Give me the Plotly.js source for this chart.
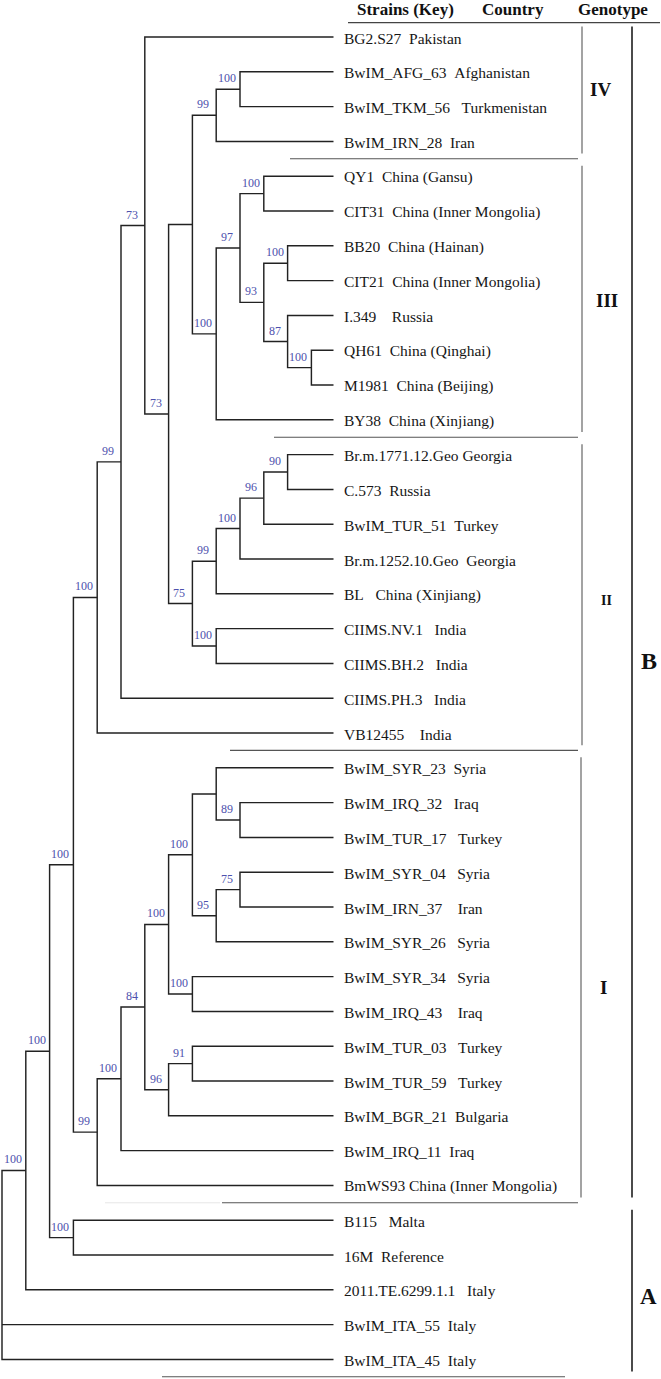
<!DOCTYPE html>
<html><head><meta charset="utf-8">
<script src="https://cdn.plot.ly/plotly-3.0.1.min.js"></script>
<style>html,body{margin:0;padding:0;background:#fff}#chart{width:661px;height:1379px}</style>
</head><body><div id="chart"></div>
<script>
// ---- data ----
const strains = ["BG2.S27","BwIM_AFG_63","BwIM_TKM_56","BwIM_IRN_28","QY1","CIT31","BB20","CIT21","I.349","QH61","M1981","BY38",
  "Br.m.1771.12.Geo","C.573","BwIM_TUR_51","Br.m.1252.10.Geo","BL","CIIMS.NV.1","CIIMS.BH.2","CIIMS.PH.3","VB12455",
  "BwIM_SYR_23","BwIM_IRQ_32","BwIM_TUR_17","BwIM_SYR_04","BwIM_IRN_37","BwIM_SYR_26","BwIM_SYR_34","BwIM_IRQ_43",
  "BwIM_TUR_03","BwIM_TUR_59","BwIM_BGR_21","BwIM_IRQ_11","BmWS93","B115","16M","2011.TE.6299.1.1","BwIM_ITA_55","BwIM_ITA_45"];
const countries = ["Pakistan","Afghanistan","Turkmenistan","Iran","China (Gansu)","China (Inner Mongolia)","China (Hainan)","China (Inner Mongolia)","Russia","China (Qinghai)","China (Beijing)","China (Xinjiang)",
  "Georgia","Russia","Turkey","Georgia","China (Xinjiang)","India","India","India","India",
  "Syria","Iraq","Turkey","Syria","Iran","Syria","Syria","Iraq",
  "Turkey","Turkey","Bulgaria","Iraq","China (Inner Mongolia)","Malta","Reference","Italy","Italy","Italy"];
const gaps = [2,2,3,2,2,2,2,2,4,2,2,2, 1,2,2,2,3,3,3,3,4, 2,3,3,3,4,3,3,4, 3,3,2,2,1,3,2,3,2,2];

// topology with bootstrap support (Newick pieces)
const cladeIV  = "((BwIM_AFG_63,BwIM_TKM_56)100,BwIM_IRN_28)99";
const cladeIII = "(((QY1,CIT31)100,((BB20,CIT21)100,(I.349,(QH61,M1981)100)87)93)97,BY38)100";
const cladeII  = "(((((Br.m.1771.12.Geo,C.573)90,BwIM_TUR_51)96,Br.m.1252.10.Geo)100,BL)99,(CIIMS.NV.1,CIIMS.BH.2)100)75";
const cladeI   = "((((((BwIM_SYR_23,(BwIM_IRQ_32,BwIM_TUR_17)89),((BwIM_SYR_04,BwIM_IRN_37)75,BwIM_SYR_26)95)100,(BwIM_SYR_34,BwIM_IRQ_43)100)100,((BwIM_TUR_03,BwIM_TUR_59)91,BwIM_BGR_21)96)84,BwIM_IRQ_11)100,BmWS93)99";
const cladeA   = "(B115,16M)100";

const groupNames = ["IV","III","II","I","B","A"];
const groupFirst = [0,4,12,21,0,34];
const groupLast  = [3,11,20,33,33,38];
const groupLabelY = [1.52,7.56,16.18,27.3,17.93,36.2];
const headerTexts = ["Strains (Key)","Country","Genotype"];

// ---- build tree ----
const n192a = "(" + cladeIV + "," + cladeIII + ")";
const n168 = "(" + n192a + "," + cladeII + ")73";
const n144 = "(BG2.S27," + n168 + ")73";
const n120 = "(" + n144 + ",CIIMS.PH.3)99";
const n96a = "(" + n120 + ",VB12455)100";
const n73 = "(" + n96a + "," + cladeI + ")100";
const n49 = "(" + n73 + "," + cladeA + ")100";
const n25 = "(" + n49 + ",2011.TE.6299.1.1)100";
const newick = "(" + n25 + ",BwIM_ITA_55,BwIM_ITA_45);";

function parseNewick(str){
  let i=0;
  function readLabel(){ const s=i; while(i<str.length && !",();".includes(str[i])) i++; return str.slice(s,i).trim(); }
  function node(){
    if(str[i]==='('){
      i++; const children=[node()];
      while(str[i]===','){ i++; children.push(node()); }
      i++;
      return {children, label: readLabel()};
    }
    return {name: readLabel()};
  }
  return node();
}
const root = parseNewick(newick);

// pixel helpers (layout only)
const XSTEP = 23.8, X0 = 2, YSTEP = 34.8, Y0 = 37;
const px = p => (p - X0) / XSTEP;
const py = p => (p - Y0) / YSTEP;
const TIP_X = px(333.5);
const SERIF = 'Liberation Serif, Times New Roman, serif';

let tipCount = 0;
function layout(n, depth){
  if(!n.children){ n.y = strains.indexOf(n.name); if(n.y<0) n.y = tipCount; tipCount++; n.x = TIP_X; return; }
  n.x = depth;
  n.children.forEach(c => layout(c, depth+1));
  n.y = (n.children[0].y + n.children[n.children.length-1].y) / 2;
}
layout(root, 0);

const lx = [], ly = [];
const annotations = [];
function collect(n){
  if(!n.children) return;
  const f = n.children[0], l = n.children[n.children.length-1];
  lx.push(f.x, n.x, n.x, l.x, null); ly.push(f.y, f.y, l.y, l.y, null);
  n.children.slice(1, -1).forEach(c => { lx.push(n.x, c.x, null); ly.push(c.y, c.y, null); });
  if(n.label){
    annotations.push({x:n.x, y:n.y, xref:'x', yref:'y', text:n.label, showarrow:false,
      xanchor:'center', yanchor:'bottom', xshift:-13, yshift:2,
      font:{family:SERIF, size:12, color:'#4d51ad'}});
  }
  n.children.forEach(collect);
}
collect(root);

strains.forEach((s, k) => {
  annotations.push({x:TIP_X, y:k, xref:'x', yref:'y', text: s + '\u00a0'.repeat(gaps[k]) + countries[k],
    showarrow:false, xanchor:'left', yanchor:'middle', xshift:8, yshift:-1,
    font:{family:SERIF, size:15.5, color:'#161616'}});
});

// header
const headerX = [355, 480, 576];
headerTexts.forEach((t, k) => {
  annotations.push({x:px(headerX[k]), y:py(9), xref:'x', yref:'y', text:'<b>'+t+'</b>', showarrow:false,
    xanchor:'left', yanchor:'middle', font:{family:SERIF, size:17, color:'#111'}});
});

// genotype bars & labels
const shapes = [];
const barX = [582,582,582,581,632,632];
const labelX = [600,607,606,603,649,648];
const labelSize = [19,19,14,19,24,23];
groupNames.forEach((g, k) => {
  const outer = (g === 'A' || g === 'B');
  shapes.push({type:'line', xref:'x', yref:'y', x0:px(barX[k]), x1:px(barX[k]),
    y0:groupFirst[k]-0.3, y1:groupLast[k]+0.35,
    line:{color: outer ? '#1e1e1e' : '#666', width: outer ? 1.6 : 1.2}});
  annotations.push({x:px(labelX[k]), y:groupLabelY[k], xref:'x', yref:'y', text:'<b>'+g+'</b>', showarrow:false,
    xanchor:'center', yanchor:'middle', font:{family:SERIF, size:labelSize[k], color:'#111'}});
});
// separators between inner groups and bottom rule
const sepStart = [290, 274, 230, 222];
[0,1,2,3].forEach(k => {
  const yy = groupLast[k] + 0.5;
  shapes.push({type:'line', xref:'x', yref:'y', x0:px(sepStart[k]), x1:px(578), y0:yy, y1:yy, line:{color:'#555', width:1.1}});
});
shapes.push({type:'line', xref:'x', yref:'y', x0:px(105), x1:px(220), y0:groupLast[3]+0.5, y1:groupLast[3]+0.5, line:{color:'#e6e6e6', width:1}});
shapes.push({type:'line', xref:'x', yref:'y', x0:px(162), x1:px(565), y0:38.5, y1:38.5, line:{color:'#555', width:1.1}});
shapes.push({type:'line', xref:'x', yref:'y', x0:px(348), x1:px(660), y0:py(22.7), y1:py(22.7), line:{color:'#444', width:1.2}});

const trace = {x:lx, y:ly, mode:'lines', type:'scatter', hoverinfo:'skip',
  line:{color:'#222', width:1.45}, showlegend:false};

const layoutObj = {
  width:661, height:1379, margin:{l:0,r:0,t:0,b:0},
  paper_bgcolor:'#fff', plot_bgcolor:'#fff',
  xaxis:{range:[px(0), px(661)], visible:false, showgrid:false, zeroline:false, fixedrange:true},
  yaxis:{range:[py(1379), py(0)], visible:false, showgrid:false, zeroline:false, fixedrange:true},
  annotations, shapes, showlegend:false
};
Plotly.newPlot('chart', [trace], layoutObj, {displayModeBar:false, staticPlot:true});
</script></body></html>
